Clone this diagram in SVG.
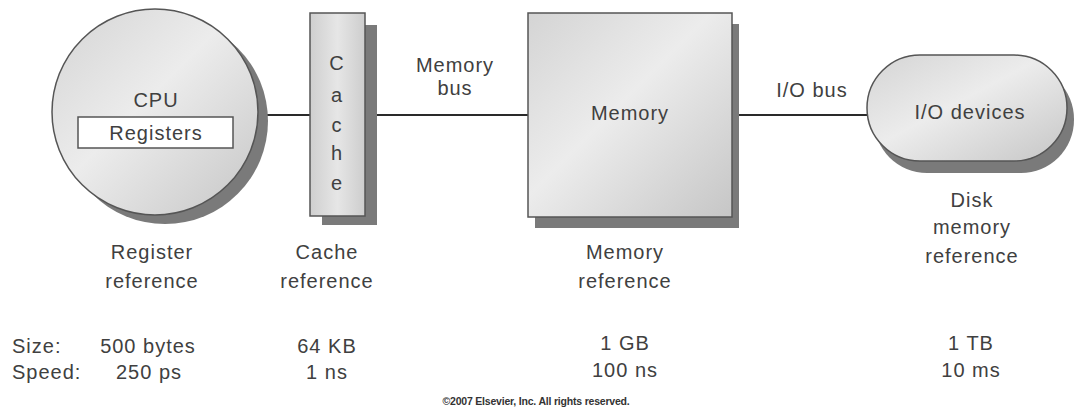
<svg xmlns="http://www.w3.org/2000/svg" width="1074" height="409" viewBox="0 0 1074 409">
  <defs>
    <linearGradient id="gFill" x1="0" y1="0" x2="1" y2="1">
      <stop offset="0" stop-color="#d4d4d4"/>
      <stop offset="0.45" stop-color="#ececec"/>
      <stop offset="1" stop-color="#c6c6c6"/>
    </linearGradient>
    <linearGradient id="gCache" x1="0" y1="0" x2="1" y2="0">
      <stop offset="0" stop-color="#cfcfcf"/>
      <stop offset="0.5" stop-color="#e6e6e6"/>
      <stop offset="1" stop-color="#cdcdcd"/>
    </linearGradient>
  </defs>
  <style>
    .shadow { fill: #7a7a7a; }
    .body { fill: url(#gFill); stroke: #555; stroke-width: 1.5; }
    .lbl { font-family: "Liberation Sans", Arial, sans-serif; font-size: 20px; fill: #404040; text-anchor: middle; letter-spacing: 1px; }
    .lft { text-anchor: start; }
    .wire { stroke: #2a2a2a; stroke-width: 2.2; fill: none; }
    .copy { font-family: "Liberation Sans", Arial, sans-serif; font-size: 10.5px; font-weight: bold; fill: #333; text-anchor: middle; letter-spacing: -0.2px; }
  </style>
  <rect width="1074" height="409" fill="#ffffff"/>

  <g id="connectors">
    <line class="wire" x1="258" y1="115" x2="310" y2="115"/>
    <line class="wire" x1="376" y1="115" x2="528" y2="115"/>
    <line class="wire" x1="738" y1="115" x2="868" y2="115"/>
    <text class="lbl" x="455" y="72">Memory</text>
    <text class="lbl" x="455" y="95">bus</text>
    <text class="lbl" x="812" y="97">I/O bus</text>
  </g>

  <g id="cpu">
    <circle class="shadow" cx="165" cy="121" r="103"/>
    <circle class="body" cx="155" cy="112" r="103"/>
    <text class="lbl" x="156" y="107">CPU</text>
    <g id="registers">
      <rect x="78" y="117" width="155" height="31" fill="#ffffff" stroke="#555" stroke-width="1.5"/>
      <text class="lbl" x="156" y="140">Registers</text>
    </g>
  </g>

  <g id="cache">
    <rect class="shadow" x="322" y="25" width="55" height="200"/>
    <rect x="310" y="13" width="55" height="203" fill="url(#gCache)" stroke="#555" stroke-width="1.5"/>
    <text class="lbl" x="337" y="70">C</text>
    <text class="lbl" x="337" y="102">a</text>
    <text class="lbl" x="337" y="132">c</text>
    <text class="lbl" x="337" y="160">h</text>
    <text class="lbl" x="337" y="190">e</text>
  </g>

  <g id="memory">
    <rect class="shadow" x="535" y="24" width="204" height="204"/>
    <rect class="body" x="528" y="13" width="204" height="204"/>
    <text class="lbl" x="630" y="120">Memory</text>
  </g>

  <g id="io">
    <rect class="shadow" x="874" y="66" width="200" height="107" rx="53" ry="53"/>
    <rect class="body" x="867" y="55" width="200" height="106" rx="53" ry="53"/>
    <text class="lbl" x="970" y="119">I/O devices</text>
  </g>

  <g id="labels">
    <text class="lbl" x="152" y="259">Register</text>
    <text class="lbl" x="152" y="288">reference</text>
    <text class="lbl" x="327" y="259">Cache</text>
    <text class="lbl" x="327" y="288">reference</text>
    <text class="lbl" x="625" y="259">Memory</text>
    <text class="lbl" x="625" y="288">reference</text>
    <text class="lbl" x="972" y="207">Disk</text>
    <text class="lbl" x="972" y="234">memory</text>
    <text class="lbl" x="972" y="263">reference</text>

    <text class="lbl lft" x="12" y="353">Size:</text>
    <text class="lbl lft" x="12" y="379">Speed:</text>
    <text class="lbl" x="148" y="353">500 bytes</text>
    <text class="lbl" x="149" y="379">250 ps</text>
    <text class="lbl" x="327" y="353">64 KB</text>
    <text class="lbl" x="327" y="379">1 ns</text>
    <text class="lbl" x="625" y="350">1 GB</text>
    <text class="lbl" x="625" y="377">100 ns</text>
    <text class="lbl" x="971" y="350">1 TB</text>
    <text class="lbl" x="971" y="377">10 ms</text>

    <text class="copy" x="536" y="405">©2007 Elsevier, Inc. All rights reserved.</text>
  </g>
</svg>
